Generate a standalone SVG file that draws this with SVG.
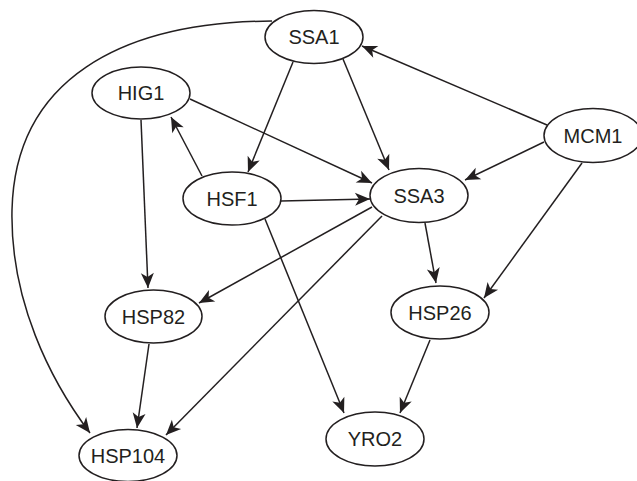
<svg xmlns="http://www.w3.org/2000/svg" width="637" height="481" viewBox="0 0 637 481">
<style>
.n ellipse{fill:#fff;stroke:#231f20;stroke-width:1.5}
.n text{font-family:"Liberation Sans",Arial,sans-serif;font-size:20px;fill:#231f20;text-anchor:middle}
.e path{fill:none;stroke:#231f20;stroke-width:1.5;marker-end:url(#ah)}
</style>
<defs>
<marker id="ah" markerUnits="userSpaceOnUse" markerWidth="20" markerHeight="16" viewBox="-16 -8 18 16" refX="0" refY="0" orient="auto">
<path d="M0,0 L-15,-6.5 L-11,0 L-15,6.5 Z" fill="#231f20"/>
</marker>
</defs>
<rect width="637" height="481" fill="#fff"/>
<g id="edges" class="e">
<path d="M272,21 C120,22 15,80 12,210 C10,300 50,380 90,433"/>
<path d="M293,62 L248,172"/>
<path d="M343,59 L389,170"/>
<path d="M547,125 L362,46"/>
<path d="M544,142 L465,180"/>
<path d="M582,163 L484,298"/>
<path d="M202,176 L171,117"/>
<path d="M190,99 L372,183"/>
<path d="M281,201 L370,199"/>
<path d="M265,219 L344,413"/>
<path d="M141,120 L148,288"/>
<path d="M372,207 L199,303"/>
<path d="M382,216 L166,435"/>
<path d="M425,223 L436,283"/>
<path d="M149,344 L137,428"/>
<path d="M430,340 L400,413"/>
</g>
<g id="SSA1" class="n"><ellipse cx="314" cy="37" rx="49" ry="26.5"/><text x="314" y="44">SSA1</text></g>
<g id="HIG1" class="n"><ellipse cx="141" cy="93" rx="49" ry="26"/><text x="141" y="100">HIG1</text></g>
<g id="MCM1" class="n"><ellipse cx="593" cy="135.5" rx="49" ry="27"/><text x="593" y="142.5">MCM1</text></g>
<g id="HSF1" class="n"><ellipse cx="232" cy="198.5" rx="49" ry="26.5"/><text x="232" y="205.5">HSF1</text></g>
<g id="SSA3" class="n"><ellipse cx="419" cy="195.5" rx="49" ry="27"/><text x="419" y="202.5">SSA3</text></g>
<g id="HSP82" class="n"><ellipse cx="153.5" cy="316.5" rx="48.5" ry="26.5"/><text x="153.5" y="323.5">HSP82</text></g>
<g id="HSP26" class="n"><ellipse cx="440" cy="312.5" rx="49" ry="26.5"/><text x="440" y="319.5">HSP26</text></g>
<g id="YRO2" class="n"><ellipse cx="375" cy="439" rx="49" ry="27"/><text x="375" y="446">YRO2</text></g>
<g id="HSP104" class="n"><ellipse cx="128" cy="455.5" rx="49" ry="26"/><text x="128" y="462.5">HSP104</text></g>
</svg>
